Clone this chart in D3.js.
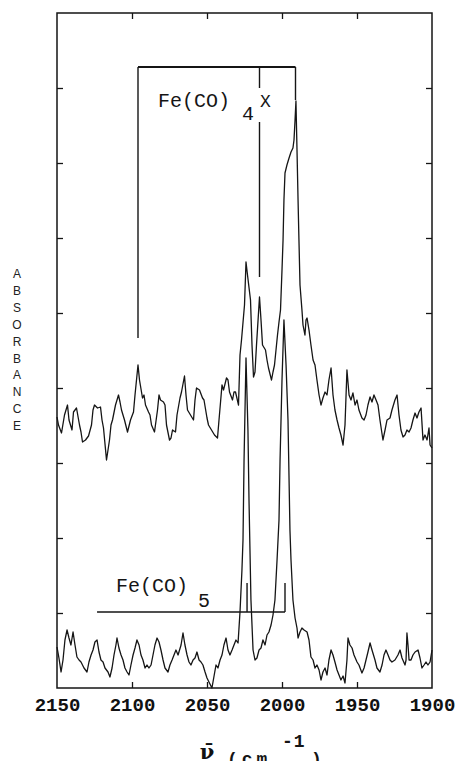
<!DOCTYPE html>
<html lang="en">
<head>
    <title>Fe(CO)4X IR spectrum</title>
    <script src="https://d3js.org/d3.v7.min.js" charset="utf-8"></script>
    <style type="text/css">
        body
        {
            margin: 0;
            background-color: white;
        }
        svg
        {
            display: block;
            background-color: white;
        }
        .trace
        {
            fill: none;
            stroke: #151515;
            stroke-width: 1.3px;
            stroke-linejoin: round;
        }
        .axis path
        {
            display: none;
        }
        .axis line
        {
            stroke: #151515;
            stroke-width: 1.3px;
        }
        .ticklabel text
        {
            font-family: "Liberation Mono", "DejaVu Sans Mono", monospace;
            font-weight: bold;
            font-size: 19px;
            fill: #111;
        }
        .mono
        {
            font-family: "Liberation Mono", "DejaVu Sans Mono", monospace;
            fill: #151515;
        }
    </style>
</head>
<body>
    <div id="chart_div"></div>
    <script>
    "use strict";

    // x axis: wavenumber (cm-1), y axis: absorbance (arbitrary, no labels)
    var x_ticks = [2150, 2100, 2050, 2000, 1950, 1900];
    var y_ticks = [0.15, 0.30, 0.45, 0.60, 0.75, 0.90, 1.05, 1.20];

    // upper spectrum (Fe(CO)4X)
    var upper_wn = [2150, 2149, 2147, 2145, 2143, 2142, 2140, 2139, 2137, 2135,
        2134, 2133, 2131, 2129, 2127, 2126, 2125, 2123, 2121, 2120,
        2119, 2117, 2115, 2114, 2113, 2111, 2109, 2108, 2107, 2105,
        2103, 2101, 2099, 2098, 2096, 2095, 2093, 2092, 2091, 2089,
        2088, 2087, 2085, 2083, 2082, 2081, 2079, 2078, 2077, 2075,
        2074, 2073, 2071, 2070, 2068, 2067, 2065, 2064, 2063, 2061,
        2059, 2058, 2057, 2055, 2053, 2052, 2050, 2049, 2047, 2045,
        2043, 2042, 2040, 2039, 2037, 2036, 2035, 2033, 2032, 2031,
        2029, 2028, 2027, 2025, 2024, 2023, 2021, 2020, 2019, 2018,
        2017, 2015, 2014, 2013, 2011, 2010, 2009, 2007, 2006, 2005,
        2003, 2002, 2001, 2000.0, 1999.3, 1998.7, 1998.0, 1996.7, 1995.3, 1994.0,
        1992.7, 1992.0, 1991.3, 1990.7, 1990.0, 1989.3, 1988.7, 1988.0, 1986.7, 1986.0,
        1984.7, 1984.0, 1983.3, 1982.0, 1980.7, 1979.3, 1978.0, 1976.7, 1975.3, 1974.0,
        1972.7, 1971.3, 1970.0, 1968.7, 1967.3, 1966.0, 1964.7, 1963.3, 1962.0, 1960.7,
        1959.3, 1958.0, 1956.7, 1955.3, 1954.0, 1952.7, 1951.3, 1950.0, 1948.7, 1946.7,
        1945.3, 1944.0, 1942.7, 1941.3, 1940.0, 1938.7, 1937.3, 1936.0, 1934.7, 1932.7,
        1931.3, 1930.0, 1928.0, 1926.7, 1924.7, 1923.3, 1922.0, 1920.7, 1919.3, 1918.0,
        1916.7, 1915.3, 1914.0, 1912.7, 1911.3, 1910.0, 1908.7, 1907.3, 1906.0, 1904.7,
        1903.3, 1902.0, 1901.3, 1900.0];
    var upper_abs = [0.542, 0.526, 0.510, 0.546, 0.566, 0.536, 0.516, 0.552, 0.560, 0.526,
        0.512, 0.492, 0.496, 0.504, 0.526, 0.556, 0.566, 0.560, 0.562, 0.536,
        0.520, 0.456, 0.496, 0.526, 0.536, 0.566, 0.586, 0.572, 0.556, 0.536,
        0.512, 0.536, 0.552, 0.586, 0.646, 0.616, 0.580, 0.586, 0.566, 0.552,
        0.546, 0.526, 0.512, 0.556, 0.586, 0.576, 0.572, 0.566, 0.526, 0.496,
        0.500, 0.516, 0.512, 0.546, 0.580, 0.592, 0.624, 0.586, 0.556, 0.546,
        0.536, 0.576, 0.600, 0.596, 0.580, 0.576, 0.540, 0.526, 0.516, 0.506,
        0.500, 0.536, 0.606, 0.596, 0.620, 0.616, 0.592, 0.576, 0.592, 0.592,
        0.566, 0.666, 0.696, 0.766, 0.852, 0.826, 0.776, 0.686, 0.622, 0.632,
        0.686, 0.782, 0.736, 0.686, 0.676, 0.656, 0.640, 0.616, 0.632, 0.646,
        0.706, 0.732, 0.756, 0.836, 0.896, 0.976, 1.030, 1.046, 1.060, 1.072,
        1.080, 1.096, 1.136, 1.174, 1.076, 0.976, 0.896, 0.806, 0.756, 0.726,
        0.706, 0.736, 0.740, 0.716, 0.686, 0.656, 0.646, 0.616, 0.586, 0.566,
        0.580, 0.592, 0.586, 0.616, 0.640, 0.586, 0.556, 0.536, 0.520, 0.506,
        0.486, 0.526, 0.636, 0.586, 0.576, 0.590, 0.566, 0.576, 0.556, 0.540,
        0.536, 0.546, 0.566, 0.582, 0.572, 0.586, 0.576, 0.566, 0.536, 0.496,
        0.516, 0.536, 0.540, 0.556, 0.576, 0.586, 0.546, 0.516, 0.502, 0.506,
        0.516, 0.512, 0.520, 0.536, 0.550, 0.540, 0.552, 0.560, 0.496, 0.506,
        0.496, 0.520, 0.486, 0.480];

    // lower spectrum (Fe(CO)5)
    var lower_wn = [2150.0, 2148.7, 2147.3, 2146.0, 2144.7, 2143.3, 2142.0, 2140.7, 2139.3, 2138.0,
        2136.7, 2135.3, 2134.0, 2132.0, 2130.0, 2128.7, 2127.3, 2126.0, 2124.7, 2123.3,
        2122.0, 2120.7, 2119.3, 2118.0, 2116.0, 2114.7, 2113.3, 2112.0, 2110.7, 2110.0,
        2108.7, 2107.3, 2106.0, 2104.7, 2103.3, 2102.0, 2100.7, 2099.3, 2098.0, 2096.7,
        2095.3, 2094.0, 2092.7, 2091.3, 2090.0, 2088.7, 2087.3, 2086.0, 2084.7, 2083.3,
        2082.0, 2080.7, 2079.3, 2078.0, 2076.0, 2074.7, 2073.3, 2072.0, 2070.7, 2069.3,
        2067.3, 2066.0, 2064.7, 2063.3, 2062.0, 2060.7, 2059.3, 2058.0, 2056.7, 2055.3,
        2054.0, 2052.7, 2051.3, 2050.0, 2048.7, 2046.7, 2045.3, 2044.0, 2042.7, 2041.3,
        2040.0, 2038.7, 2037.3, 2036.0, 2034.7, 2033.3, 2032.0, 2030.7, 2029.3, 2028.0,
        2026.7, 2026.0, 2025.3, 2024.0, 2022.7, 2022.0, 2020.7, 2019.3, 2018.0, 2016.7,
        2015.3, 2014.0, 2012.7, 2011.3, 2010.0, 2008.7, 2007.3, 2006.0, 2004.7, 2003.3,
        2002.0, 2001.3, 2000.0, 1998.7, 1997.3, 1996.0, 1994.7, 1994.0, 1992.7, 1991.3,
        1990.0, 1989.3, 1988.0, 1986.7, 1985.3, 1983.3, 1982.0, 1980.7, 1979.3, 1978.0,
        1976.7, 1975.3, 1974.0, 1972.7, 1971.3, 1970.0, 1968.7, 1967.3, 1966.0, 1964.7,
        1963.3, 1962.0, 1960.7, 1959.3, 1958.0, 1956.7, 1956.0, 1954.7, 1953.3, 1952.0,
        1950.0, 1948.7, 1946.7, 1945.3, 1944.0, 1942.7, 1941.3, 1940.0, 1938.0, 1936.7,
        1934.7, 1933.3, 1932.0, 1930.7, 1929.3, 1928.0, 1926.7, 1924.7, 1922.7, 1921.3,
        1920.0, 1918.0, 1917.3, 1916.7, 1916.0, 1915.3, 1914.0, 1912.7, 1911.3, 1909.3,
        1908.0, 1906.7, 1905.3, 1904.0, 1902.7, 1901.3, 1900.0];
    var lower_abs = [0.082, 0.060, 0.032, 0.056, 0.096, 0.116, 0.100, 0.086, 0.112, 0.086,
        0.062, 0.056, 0.052, 0.040, 0.032, 0.052, 0.066, 0.076, 0.092, 0.096,
        0.072, 0.056, 0.052, 0.040, 0.032, 0.022, 0.040, 0.066, 0.086, 0.100,
        0.080, 0.066, 0.056, 0.040, 0.032, 0.026, 0.046, 0.066, 0.080, 0.096,
        0.086, 0.066, 0.056, 0.040, 0.046, 0.040, 0.046, 0.066, 0.086, 0.100,
        0.092, 0.076, 0.056, 0.040, 0.032, 0.046, 0.056, 0.066, 0.076, 0.066,
        0.086, 0.110, 0.086, 0.066, 0.052, 0.046, 0.056, 0.060, 0.072, 0.056,
        0.052, 0.046, 0.032, 0.020, 0.012, 0.000, 0.024, 0.046, 0.040, 0.056,
        0.066, 0.086, 0.100, 0.076, 0.066, 0.076, 0.086, 0.096, 0.090, 0.152,
        0.236, 0.296, 0.456, 0.660, 0.516, 0.376, 0.176, 0.076, 0.056, 0.060,
        0.076, 0.080, 0.096, 0.086, 0.106, 0.112, 0.126, 0.146, 0.176, 0.256,
        0.336, 0.456, 0.616, 0.736, 0.646, 0.536, 0.316, 0.256, 0.176, 0.140,
        0.120, 0.100, 0.112, 0.120, 0.116, 0.112, 0.096, 0.062, 0.056, 0.040,
        0.046, 0.036, 0.016, 0.032, 0.040, 0.026, 0.056, 0.076, 0.066, 0.052,
        0.036, 0.026, 0.016, 0.024, 0.010, 0.056, 0.100, 0.086, 0.080, 0.066,
        0.052, 0.046, 0.030, 0.040, 0.056, 0.072, 0.090, 0.076, 0.056, 0.040,
        0.032, 0.046, 0.066, 0.076, 0.066, 0.056, 0.052, 0.056, 0.066, 0.076,
        0.060, 0.046, 0.056, 0.110, 0.086, 0.056, 0.056, 0.066, 0.072, 0.076,
        0.060, 0.040, 0.046, 0.052, 0.046, 0.052, 0.076];

    // peak assignment brackets
    var fe4x_peaks = [2096, 2015, 1991];
    var fe4x_peak_ends = [0.700, 0.822, 1.176];
    var fe4x_bar = 1.242;
    var fe4x_label_gap = [1.200, 1.132];   // middle leg is broken where the label sits
    var fe5_peaks = [2023.3, 1998];
    var fe5_bar_start = 2123.3;
    var fe5_bar = 0.152;
    var fe5_peak_ends = [0.210, 0.210];

    var ylabel_letters = "ABSORBANCE".split("");

    var svg_width = 459;
    var svg_height = 761;
    var plot_left = 57, plot_right = 432, plot_top = 13, plot_bottom = 688;
    var ink = "#151515";

    var x = d3.scaleLinear()
        .domain([2150, 1900])
        .range([plot_left, plot_right]);
    var y = d3.scaleLinear()
        .domain([0, 1.35])
        .range([plot_bottom, plot_top]);

    var svg = d3.select("#chart_div")
        .append("svg")
        .attr("width", svg_width)
        .attr("height", svg_height);

    // traces
    var line = d3.line()
        .x(function(d) { return x(d[0]); })
        .y(function(d) { return y(d[1]); });
    svg.append("path")
        .attr("class", "trace")
        .attr("d", line(d3.zip(upper_wn, upper_abs)));
    svg.append("path")
        .attr("class", "trace")
        .attr("d", line(d3.zip(lower_wn, lower_abs)));

    // frame
    svg.append("rect")
        .attr("x", plot_left)
        .attr("y", plot_top)
        .attr("width", plot_right - plot_left)
        .attr("height", plot_bottom - plot_top)
        .attr("fill", "none")
        .attr("stroke", ink)
        .attr("stroke-width", 1.5);

    // ticks on all four sides, pointing inwards
    var inner_x = x_ticks.slice(1, -1);
    svg.append("g")
        .attr("class", "axis")
        .attr("transform", "translate(0," + plot_bottom + ")")
        .call(d3.axisBottom(x).tickValues(inner_x).tickSize(-6).tickFormat(""));
    svg.append("g")
        .attr("class", "axis")
        .attr("transform", "translate(0," + plot_top + ")")
        .call(d3.axisTop(x).tickValues(inner_x).tickSize(-6).tickFormat(""));
    svg.append("g")
        .attr("class", "axis")
        .attr("transform", "translate(" + plot_left + ",0)")
        .call(d3.axisLeft(y).tickValues(y_ticks).tickSize(-6).tickFormat(""));
    svg.append("g")
        .attr("class", "axis")
        .attr("transform", "translate(" + plot_right + ",0)")
        .call(d3.axisRight(y).tickValues(y_ticks).tickSize(-6).tickFormat(""));

    // tick labels
    var xlabels = svg.append("g")
        .attr("class", "axis ticklabel")
        .attr("transform", "translate(0," + plot_bottom + ")")
        .call(d3.axisBottom(x).tickValues(x_ticks).tickSize(0).tickPadding(10).tickFormat(d3.format("d")));
    xlabels.selectAll("line").remove();

    // Fe(CO)4X bracket
    var b4 = svg.append("g");
    b4.append("line")
        .attr("x1", x(fe4x_peaks[0]))
        .attr("x2", x(fe4x_peaks[2]))
        .attr("y1", y(fe4x_bar))
        .attr("y2", y(fe4x_bar))
        .attr("stroke", ink)
        .attr("stroke-width", 2);
    var legs4 = [
        [fe4x_peaks[0], fe4x_bar, fe4x_peak_ends[0]],
        [fe4x_peaks[1], fe4x_bar, fe4x_label_gap[0]],
        [fe4x_peaks[1], fe4x_label_gap[1], fe4x_peak_ends[1]],
        [fe4x_peaks[2], fe4x_bar, fe4x_peak_ends[2]]
    ];
    b4.selectAll("line.leg")
        .data(legs4)
        .enter()
        .append("line")
        .attr("class", "leg")
        .attr("x1", function(d) { return x(d[0]); })
        .attr("x2", function(d) { return x(d[0]); })
        .attr("y1", function(d) { return y(d[1]); })
        .attr("y2", function(d) { return y(d[2]); })
        .attr("stroke", ink)
        .attr("stroke-width", 1.4);

    var t4 = svg.append("text")
        .attr("class", "mono")
        .attr("x", x(2082.7))
        .attr("y", y(1.162))
        .style("font-size", "20px")
        .text("Fe(CO)");
    t4.append("tspan")
        .attr("dx", 12)
        .attr("dy", 13)
        .text("4");
    t4.append("tspan")
        .attr("dx", 6)
        .attr("dy", -13)
        .style("font-size", "18px")
        .text("X");

    // Fe(CO)5 bracket
    var b5 = svg.append("g");
    b5.append("line")
        .attr("x1", x(fe5_bar_start))
        .attr("x2", x(fe5_peaks[1]))
        .attr("y1", y(fe5_bar))
        .attr("y2", y(fe5_bar))
        .attr("stroke", ink)
        .attr("stroke-width", 1.7);
    b5.selectAll("line.leg")
        .data(fe5_peaks)
        .enter()
        .append("line")
        .attr("class", "leg")
        .attr("x1", function(d) { return x(d); })
        .attr("x2", function(d) { return x(d); })
        .attr("y1", y(fe5_bar))
        .attr("y2", function(d, i) { return y(fe5_peak_ends[i]); })
        .attr("stroke", ink)
        .attr("stroke-width", 1.4);

    var t5 = svg.append("text")
        .attr("class", "mono")
        .attr("x", x(2110.7))
        .attr("y", y(0.192))
        .style("font-size", "20px")
        .text("Fe(CO)");
    t5.append("tspan")
        .attr("dx", 10)
        .attr("dy", 15)
        .text("5");

    // y label, letters stacked
    svg.append("g")
        .selectAll("text")
        .data(ylabel_letters)
        .enter()
        .append("text")
        .attr("x", 17)
        .attr("y", function(d, i) { return 278 + i * 16.9; })
        .attr("text-anchor", "middle")
        .style("font-family", "'Liberation Sans', Arial, sans-serif")
        .style("font-size", "12px")
        .style("fill", "#222")
        .text(function(d) { return d; });

    // x label: nu-bar (cm-1)
    svg.append("text")
        .attr("x", 207)
        .attr("y", 759)
        .attr("text-anchor", "middle")
        .style("font-family", "'DejaVu Serif', serif")
        .style("font-weight", "bold")
        .style("font-size", "21px")
        .style("fill", "#111")
        .text("\u03bd\u0304");
    var unit = svg.append("text")
        .attr("x", 227)
        .attr("y", 765)
        .attr("class", "mono")
        .style("font-weight", "bold")
        .style("font-size", "18px")
        .style("letter-spacing", "4px")
        .text("(cm");
    unit.append("tspan")
        .attr("x", 282)
        .attr("dy", -18)
        .style("letter-spacing", "1px")
        .text("-1");
    unit.append("tspan")
        .attr("x", 311)
        .attr("dy", 18)
        .text(")");
    </script>
</body>
</html>
